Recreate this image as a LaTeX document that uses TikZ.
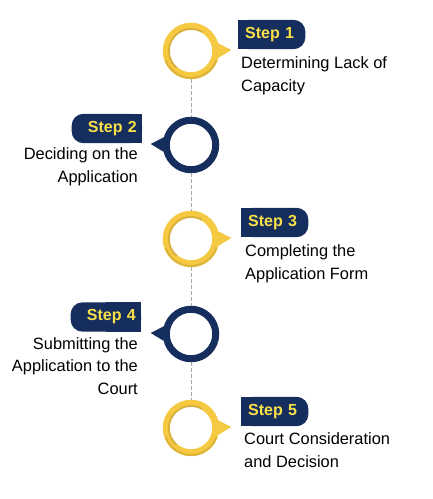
\documentclass[tikz,border=0pt]{standalone}
\usepackage{fontspec}
\setmainfont{Liberation Sans}
\usetikzlibrary{backgrounds}
\definecolor{navy}{RGB}{22,46,94}
\definecolor{ringyellow}{RGB}{246,201,66}
\definecolor{stepyellow}{RGB}{250,224,72}

\begin{document}
\begin{tikzpicture}[x=1pt,y=-1pt,
  ring/.style={circle,draw=#1,line width=7pt,minimum size=49.5pt,inner sep=0pt},
  innershade/.style={draw=black,draw opacity=0.12,line width=2pt},
  outershade/.style={draw=ringyellow!80!black,draw opacity=0.5,line width=2pt},
  tagright/.style={text=stepyellow,font=\fontsize{16}{19}\selectfont\bfseries,
    minimum height=29pt,inner ysep=0pt,inner xsep=7pt,text width=53pt,align=left,anchor=west},
  tagleft/.style={text=stepyellow,font=\fontsize{16}{19}\selectfont\bfseries,
    minimum height=29pt,inner ysep=0pt,inner xsep=5pt,text width=60pt,align=right,anchor=east},
  desc/.style={font=\fontsize{16.4}{22.5}\selectfont,inner sep=0pt},
  dashline/.style={gray!70,line width=0.8pt,dash pattern=on 4pt off 2pt}]
  \useasboundingbox (0,0) rectangle (432,499);

  % circles on the time line
  \node[ring=ringyellow] (c1) at (191,51) {};
  \node[ring=navy] (c2) at (191,145) {};
  \node[ring=ringyellow] (c3) at (191,239) {};
  \node[ring=navy] (c4) at (191,334) {};
  \node[ring=ringyellow] (c5) at (191,428) {};

  % shading of the yellow rings
  \foreach \c in {c1,c3,c5} {
    \draw[innershade] ([shift={(60:22pt)}]\c.center) arc[start angle=60,end angle=230,radius=22pt];
    \draw[outershade] ([shift={(200:27pt)}]\c.center) arc[start angle=200,end angle=340,radius=27pt];
  }

  % tails
  \fill[ringyellow] (c1.16) -- ([xshift=12pt,yshift=1pt]c1.east) -- (c1.-14) -- cycle;
  \fill[navy] (c2.164) -- ([xshift=-12pt,yshift=1pt]c2.west) -- (c2.194) -- cycle;
  \fill[ringyellow] (c3.16) -- ([xshift=12pt,yshift=1pt]c3.east) -- (c3.-14) -- cycle;
  \fill[navy] (c4.164) -- ([xshift=-12pt,yshift=1pt]c4.west) -- (c4.194) -- cycle;
  \fill[ringyellow] (c5.16) -- ([xshift=12pt,yshift=1pt]c5.east) -- (c5.-14) -- cycle;

  \draw[dashline] (c1) -- (c2);
  \draw[dashline] (c2) -- (c3);
  \draw[dashline] (c3) -- (c4);
  \draw[dashline] (c4) -- (c5);

  % step tags
  \node[tagright] (s1) at (238,34.5) {Step 1};
  \node[tagleft] (s2) at (142,128.5) {Step 2};
  \node[tagright] (s3) at (241,222.5) {Step 3};
  \node[tagleft] (s4) at (141,317) {Step 4};
  \node[tagright] (s5) at (241,411.5) {Step 5};

  \begin{scope}[on background layer]
    \fill[navy,rounded corners=12pt] (s1.south west) rectangle (s1.north east);
    \fill[navy] (s1.south west) rectangle (s1.north);
    \fill[navy,rounded corners=12pt] (s2.south west) rectangle (s2.north east);
    \fill[navy] (s2.south) rectangle (s2.north east);
    \fill[navy,rounded corners=12pt] (s3.south west) rectangle (s3.north east);
    \fill[navy] (s3.south west) rectangle (s3.north);
    \fill[navy,rounded corners=12pt] (s4.south west) rectangle (s4.north east);
    \fill[navy] (s4.south) rectangle (s4.north east);
    \fill[navy,rounded corners=12pt] (s5.south west) rectangle (s5.north east);
    \fill[navy] (s5.south west) rectangle (s5.north);
  \end{scope}

  % descriptions
  \node[desc,anchor=base west,align=left] (d1) at (241,91) {Determining Lack of\\Capacity};
  \node[desc,anchor=base east,align=right] (d2) at (138,182) {Deciding on the\\Application};
  \node[desc,anchor=base east,align=right] (d4) at (138,394) {Submitting the\\Application to the\\Court};
  \node[desc,anchor=base west,align=left] (d3) at (245,279) {Completing the\\Application Form};
  \node[desc,anchor=base west,align=left] (d5) at (244,467) {Court Consideration\\and Decision};
\end{tikzpicture}
\end{document}
